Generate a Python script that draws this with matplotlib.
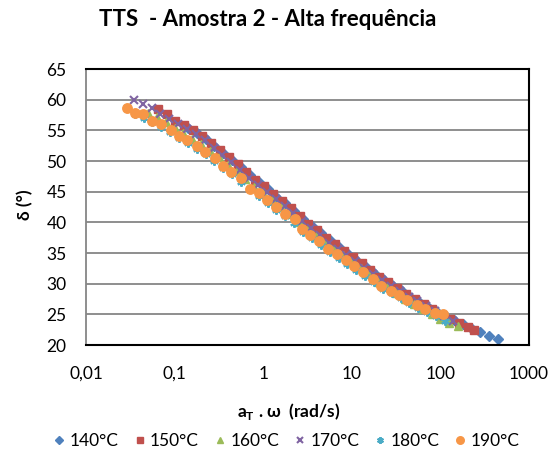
import matplotlib.pyplot as plt
from matplotlib.ticker import FixedLocator, NullLocator

plt.rcParams['font.family'] = ['Lato', 'DejaVu Sans']

# series data: aT.w (rad/s) and delta (deg)
x140 = [0.141, 0.178, 0.224, 0.282, 0.355, 0.447, 0.562, 0.708, 0.891, 1.12, 1.41, 1.78,
        2.24, 2.82, 3.55, 4.47, 5.62, 7.08, 8.91, 11.2, 14.1, 17.8, 22.4, 28.2, 35.5, 44.7,
        56.2, 70.8, 89.1, 112, 141, 178, 224, 282, 355, 447]
y140 = [55.4, 54.5, 53.6, 52.5, 51.3, 50.2, 49.0, 47.7, 46.6, 45.4, 44.2, 43.1,
        41.9, 40.6, 39.4, 38.3, 37.1, 36.0, 35.0, 33.9, 32.9, 31.8, 30.7, 29.8, 28.9, 28.0,
        27.2, 26.4, 25.5, 24.7, 24.0, 23.4, 22.8, 22.1, 21.5, 21.0]

x150 = [0.0646, 0.0813, 0.102, 0.129, 0.162, 0.204, 0.257, 0.324, 0.407, 0.513, 0.646, 0.813,
        1.02, 1.29, 1.62, 2.04, 2.57, 3.24, 4.07, 5.13, 6.46, 8.13, 10.2, 12.9, 16.2, 20.4,
        25.7, 32.4, 40.7, 51.3, 64.6, 81.3, 102, 129, 162, 204, 240]
y150 = [58.5, 57.7, 56.6, 55.8, 55.0, 54.0, 53.0, 51.8, 50.6, 49.5, 48.2, 46.9,
        45.9, 44.6, 43.5, 42.4, 41.1, 39.8, 38.7, 37.5, 36.4, 35.4, 34.3, 33.3, 32.3, 31.1,
        30.2, 29.3, 28.3, 27.5, 26.7, 25.9, 24.9, 24.2, 23.6, 23.0, 22.4]

x160 = [0.0501, 0.0631, 0.0794, 0.1, 0.126, 0.158, 0.2, 0.251, 0.316, 0.398, 0.501, 0.631,
        0.794, 1.0, 1.26, 1.58, 2.0, 2.51, 3.16, 3.98, 5.01, 6.31, 7.94, 10, 12.6, 15.8,
        20, 25.1, 31.6, 39.8, 50.1, 63.1, 79.4, 100, 126, 158]
y160 = [57.9, 57.1, 56.4, 55.4, 54.5, 53.6, 52.7, 51.7, 50.6, 49.4, 48.3, 47.0,
        45.8, 44.8, 43.6, 42.5, 41.4, 40.1, 38.8, 37.8, 36.6, 35.6, 34.6, 33.5, 32.5, 31.5,
        30.3, 29.4, 28.5, 27.5, 26.7, 25.9, 25.1, 24.2, 23.6, 23.1]

x170 = [0.0347, 0.0437, 0.055, 0.0692, 0.0871, 0.110, 0.138, 0.174, 0.219, 0.275, 0.347, 0.437,
        0.550, 0.692, 0.871, 1.10, 1.38, 1.74, 2.19, 2.75, 3.47, 4.37, 5.50, 6.92, 8.71, 11.0,
        13.8, 17.4, 21.9, 27.5, 34.7, 43.7, 55.0, 69.2, 87.1, 110, 138]
y170 = [60.0, 59.3, 58.6, 57.7, 56.9, 56.0, 55.2, 54.4, 53.4, 52.2, 51.0, 49.8,
        48.6, 47.3, 46.1, 44.9, 43.8, 42.7, 41.5, 40.2, 39.0, 37.9, 36.7, 35.7, 34.7, 33.7,
        32.6, 31.6, 30.6, 29.7, 28.8, 27.9, 27.2, 26.4, 25.6, 24.7, 23.9]

x180 = [0.0355, 0.0447, 0.0562, 0.0708, 0.0891, 0.112, 0.141, 0.178, 0.224, 0.282, 0.355, 0.447,
        0.562, 0.708, 0.891, 1.12, 1.41, 1.78, 2.24, 2.82, 3.55, 4.47, 5.62, 7.08, 8.91, 11.2,
        14.1, 17.8, 22.4, 28.2, 35.5, 44.7, 56.2, 70.8, 89.1, 112]
y180 = [57.6, 57.0, 56.3, 55.5, 54.7, 53.8, 52.9, 52.0, 51.1, 50.0, 48.9, 47.8,
        46.6, 45.4, 44.3, 43.2, 42.0, 41.0, 39.9, 38.5, 37.4, 36.3, 35.2, 34.2, 33.2, 32.2,
        31.2, 30.2, 29.2, 28.4, 27.6, 26.8, 26.1, 25.4, 24.7, 23.9]

x190 = [0.0287, 0.0356, 0.044, 0.056, 0.071, 0.0905, 0.112, 0.138, 0.179, 0.223, 0.284, 0.351,
        0.437, 0.557, 0.703, 0.887, 1.11, 1.38, 1.77, 2.26, 2.76, 3.39, 4.24, 5.45, 6.76, 8.63,
        10.7, 13.3, 17.2, 21.4, 27.7, 33.8, 42.0, 53.8, 66.9, 87.3, 106]
y190 = [58.6, 57.9, 57.6, 56.6, 56.0, 55.0, 54.1, 53.4, 52.4, 51.5, 50.5, 49.15,
        48.2, 47.2, 45.5, 44.8, 43.7, 42.5, 41.4, 40.6, 38.97, 38.0, 37.0, 35.7, 34.8, 33.8,
        32.8, 31.9, 30.8, 29.7, 28.8, 28.2, 27.3, 26.6, 25.9, 25.2, 25.0]

labels = ['140°C', '150°C', '160°C', '170°C', '180°C', '190°C']
xticks = [0.01, 0.1, 1, 10, 100, 1000]
xticklabels = ['0,01', '0,1', '1', '10', '100', '1000']
yticks = [20, 25, 30, 35, 40, 45, 50, 55, 60, 65]

fig = plt.figure(figsize=(5.54, 4.57), dpi=100)
ax = fig.add_axes([86/554, 1 - 345/457, (529 - 86)/554, (345 - 69)/457])

ax.plot(x140, y140, 'D', color='#4F81BD', ms=5, label=labels[0])
ax.plot(x150, y150, 's', color='#C0504D', ms=5.5, label=labels[1])
ax.plot(x160, y160, '^', color='#9BBB59', ms=6, label=labels[2])
ax.plot(x170, y170, 'x', color='#8064A2', ms=6, mew=1.5, label=labels[3])
ax.plot(x180, y180, marker=(6, 2, 0), ls='none', color='#4BACC6', ms=6, mew=1.5, label=labels[4])
ax.plot(x190, y190, 'o', color='#F79646', ms=6.8, label=labels[5])

ax.set_xscale('log')
ax.set_xlim(0.01, 1000)
ax.set_ylim(20, 65)
ax.xaxis.set_major_locator(FixedLocator(xticks))
ax.xaxis.set_minor_locator(NullLocator())
ax.set_xticklabels(xticklabels)
ax.set_yticks(yticks)
ax.tick_params(axis='both', length=0, labelsize=12.5)
ax.tick_params(axis='y', pad=14)
ax.tick_params(axis='x', pad=15)
ax.grid(True, axis='y', color='#868686', lw=1.3)
ax.set_axisbelow(True)
for s in ['top', 'right', 'bottom']:
    ax.spines[s].set_color('black')
    ax.spines[s].set_linewidth(1.5)
ax.spines['left'].set_color('#868686')
ax.spines['left'].set_linewidth(1.3)

fig.text(268/554, 1 - 19/457, 'TTS  - Amostra 2 - Alta frequência', ha='center', va='center',
         fontsize=16, fontweight='bold')
fig.text(289/554, 1 - 411/457, r'a$_\mathregular{T}$ . ω  (rad/s)', ha='center', va='center',
         fontsize=12.5, fontweight='bold')
fig.text(25/554, 1 - 205/457, 'δ (°)', ha='center', va='center', rotation=90,
         fontsize=12.5, fontweight='bold')

fig.legend(loc='center', bbox_to_anchor=(287/554, 1 - 441/457), ncol=6, frameon=False,
           fontsize=12.5, handlelength=0.6, handletextpad=0.3, columnspacing=0.9,
           markerscale=0.8, borderaxespad=0)

fig.savefig('out.png', dpi=100)
